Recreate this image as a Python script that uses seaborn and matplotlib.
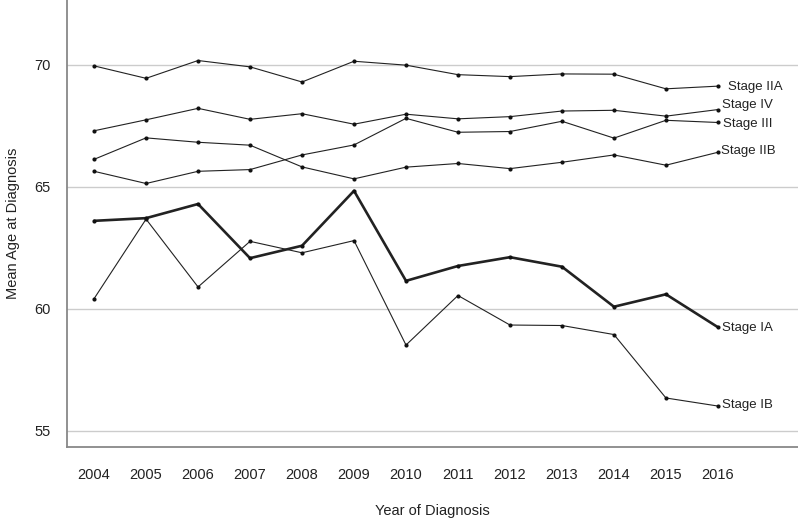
import matplotlib
matplotlib.use("Agg")
import matplotlib.pyplot as plt
import seaborn as sns
import pandas as pd

sns.set_style("white")
plt.rcParams['font.family'] = ['Liberation Sans', 'DejaVu Sans']

years = list(range(2004, 2017))

stage_iia = [69.96, 69.45, 70.18, 69.92, 69.30, 70.15, 69.99, 69.60, 69.52, 69.63, 69.62, 69.02, 69.13]
stage_iv = [67.30, 67.75, 68.22, 67.77, 68.00, 67.57, 67.98, 67.79, 67.88, 68.11, 68.14, 67.90, 68.17]
stage_iii = [65.64, 65.14, 65.64, 65.71, 66.31, 66.72, 67.81, 67.24, 67.27, 67.69, 67.00, 67.73, 67.64]
stage_iib = [66.13, 67.01, 66.83, 66.71, 65.82, 65.33, 65.81, 65.96, 65.75, 66.01, 66.31, 65.89, 66.42]
stage_ia = [63.61, 63.72, 64.30, 62.08, 62.59, 64.84, 61.15, 61.76, 62.12, 61.73, 60.09, 60.60, 59.25]
stage_ib = [60.42, 63.68, 60.90, 62.77, 62.30, 62.80, 58.52, 60.55, 59.34, 59.32, 58.95, 56.35, 56.02]

series = {
    "Stage IIA": stage_iia,
    "Stage IV": stage_iv,
    "Stage III": stage_iii,
    "Stage IIB": stage_iib,
    "Stage IA": stage_ia,
    "Stage IB": stage_ib,
}
# label offsets (x in years, y in age units) so the text sits like the original
label_pos = {
    "Stage IIA": (0.20, -0.05),
    "Stage IV": (0.08, 0.18),
    "Stage III": (0.10, -0.05),
    "Stage IIB": (0.05, 0.05),
    "Stage IA": (0.08, -0.02),
    "Stage IB": (0.08, 0.05),
}

fig = plt.figure(figsize=(7.98, 5.18), dpi=100)
ax = fig.add_axes([0.084, 0.137, 0.916, 0.863])

for name, vals in series.items():
    df = pd.DataFrame({"year": years, "age": vals})
    lw = 1.9 if name == "Stage IA" else 0.8
    sns.lineplot(data=df, x="year", y="age", ax=ax, color="#222222", linewidth=lw,
                 marker="o", markersize=3, markeredgewidth=0, markerfacecolor="#111111")
    dx, dy = label_pos[name]
    ax.text(years[-1] + dx, vals[-1] + dy, name, fontsize=9.5, color="#222222",
            va="center", ha="left")

ax.set_xlim(2003.48, 2017.54)
ax.set_ylim(54.34, 72.66)
ax.set_xticks(years)
ax.set_yticks([55, 60, 65, 70])
ax.yaxis.grid(True, color="#cccccc", linewidth=1)
ax.set_axisbelow(True)

for s in ["top", "right"]:
    ax.spines[s].set_visible(False)
for s in ["left", "bottom"]:
    ax.spines[s].set_color("#888888")
    ax.spines[s].set_linewidth(1.3)

ax.tick_params(axis="x", direction="out", length=7, width=0.8, color="#555555",
               pad=8, labelsize=10.5, labelcolor="#222222")
ax.tick_params(axis="y", direction="out", length=7, width=0.8, color="#555555",
               pad=5, labelsize=10.5, labelcolor="#222222")

ax.set_xlabel("Year of Diagnosis", fontsize=10.5, color="#222222", labelpad=16)
ax.set_ylabel("Mean Age at Diagnosis", fontsize=10.5, color="#222222", labelpad=10)

fig.savefig("out.png", dpi=100)
